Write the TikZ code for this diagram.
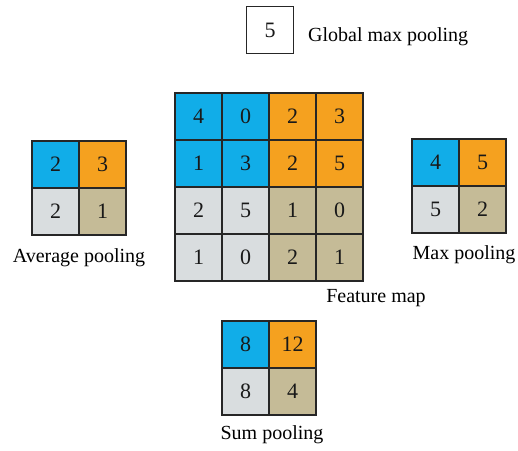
\documentclass[tikz,border=0pt]{standalone}
\usepackage{fontspec}
\setmainfont{Liberation Serif}
\newfontfamily\tnr{Liberation Serif}
\usepackage{tikz}
\definecolor{bl}{RGB}{17,173,232}
\definecolor{or}{RGB}{245,161,31}
\definecolor{gr}{RGB}{217,221,223}
\definecolor{kh}{RGB}{197,187,151}
\tikzset{
  cell/.style={draw=black!85,line width=1.3pt,minimum size=47pt,inner sep=0pt,
    text=black!90,font=\tnr\fontsize{22}{24}\selectfont},
  lab/.style={inner sep=0pt,font=\tnr\fontsize{20}{22}\selectfont}
}

\begin{document}
\begin{tikzpicture}[x=1pt,y=1pt]
  \useasboundingbox (0,0) rectangle (518,450);
  % feature map
  \foreach \row [count=\j from 0] in {{4/bl,0/bl,2/or,3/or},{1/bl,3/bl,2/or,5/or},
      {2/gr,5/gr,1/kh,0/kh},{1/gr,0/gr,2/kh,1/kh}}
    \foreach \v/\c [count=\i from 0] in \row
      \node[cell,fill=\c] (f-\j-\i) at (198.5+47*\i,333.5-47*\j) {\v};
  \node[lab] (fmap) at (376,152) {Feature map};
  % pooled maps
  \foreach \nm/\x/\y/\a/\b/\c/\d in {avg/32/309/2/3/2/1,max/412/311/4/5/5/2,sum/222/129/8/12/8/4}{
    \node[cell,fill=bl] (\nm-a) at (\x+23.5,\y-23.5) {\a};
    \node[cell,fill=or] (\nm-b) at (\x+70.5,\y-23.5) {\b};
    \node[cell,fill=gr] (\nm-c) at (\x+23.5,\y-70.5) {\c};
    \node[cell,fill=kh] (\nm-d) at (\x+70.5,\y-70.5) {\d};
  }
  \node[lab] (avglab) at (79,192) {Average pooling};
  \node[lab] (maxlab) at (464,195) {Max pooling};
  \node[lab] (sumlab) at (272,15) {Sum pooling};
  % global max
  \node[cell,fill=white] (gmax) at (270,420) {5};
  \node[lab,anchor=west] (gmaxlab) at (308,413) {Global max pooling};
\end{tikzpicture}
\end{document}
